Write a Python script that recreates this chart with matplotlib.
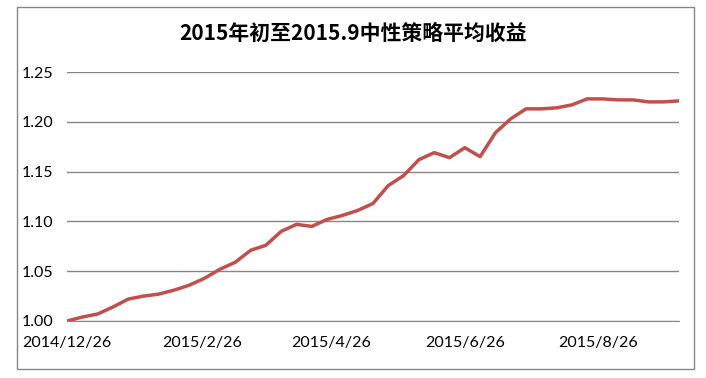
import matplotlib
matplotlib.use("Agg")
import matplotlib.pyplot as plt
from matplotlib.patches import Rectangle
import pandas as pd

plt.rcParams["font.family"] = ["Lato", "DejaVu Sans"]

title = "2015年初至2015.9中性策略平均收益"

# weekly values
start_date = "2014-12-26"
values = [
    1.000, 1.004, 1.007, 1.014, 1.022, 1.025, 1.027, 1.031, 1.036, 1.043,
    1.052, 1.059, 1.071, 1.076, 1.090, 1.097, 1.095, 1.102, 1.106, 1.111,
    1.118, 1.136, 1.146, 1.162, 1.169, 1.164, 1.174, 1.165, 1.189, 1.203,
    1.213, 1.213, 1.214, 1.217, 1.223, 1.223, 1.222, 1.222, 1.220, 1.220,
    1.221,
]
tick_dates = ["2014-12-26", "2015-02-26", "2015-04-26", "2015-06-26", "2015-08-26"]
tick_labels = ["2014/12/26", "2015/2/26", "2015/4/26", "2015/6/26", "2015/8/26"]
y_ticks = [1.00, 1.05, 1.10, 1.15, 1.20, 1.25]

dates = pd.date_range(start_date, periods=len(values), freq="7D")

fig = plt.figure(figsize=(7.06, 3.78), dpi=100)
ax = fig.add_axes([67 / 706, 57 / 378, 612 / 706, 249 / 378])

ax.plot(dates, values, color="#C0504D", linewidth=2.5, solid_joinstyle="round")

ax.set_ylim(1.0, 1.25)
ax.set_yticks(y_ticks)
ax.set_yticklabels([f"{v:.2f}" for v in y_ticks])
ax.set_xlim(dates[0], dates[-1])
ax.set_xticks(pd.to_datetime(tick_dates))
ax.set_xticklabels(tick_labels)

ax.grid(axis="y", color="#868686", linewidth=1.0)
ax.set_axisbelow(True)
for side in ["top", "right", "left"]:
    ax.spines[side].set_visible(False)
ax.spines["bottom"].set_color("#868686")
ax.tick_params(axis="both", length=0, labelsize=11.5, colors="black")
ax.tick_params(axis="x", pad=11)
ax.tick_params(axis="y", pad=10)

fig.text(0.5, 1 - 33 / 378, title, ha="center", va="center", fontsize=15,
         fontweight="bold", family=["Noto Sans CJK SC", "DejaVu Sans"])

fig.patches.append(Rectangle((17 / 706, 1 - 369 / 378), 677 / 706, 362 / 378,
                             transform=fig.transFigure, fill=False,
                             edgecolor="#868686", linewidth=1.0))

fig.savefig("out.png", dpi=100)
